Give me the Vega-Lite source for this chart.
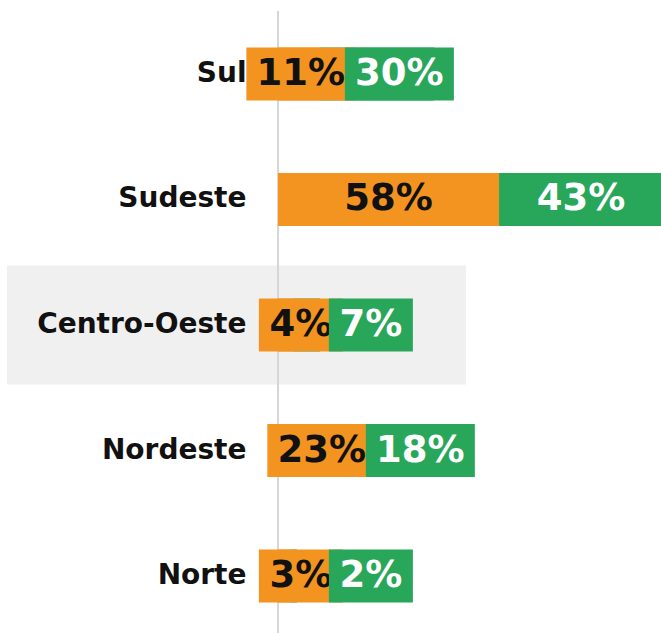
{
  "$schema": "https://vega.github.io/schema/vega-lite/v6.json",
  "width": 383,
  "height": 622,
  "autosize": "none",
  "padding": {"left": 278, "top": 11, "right": 0, "bottom": 0},
  "background": "#ffffff",
  "config": {"view": {"stroke": null}},
  "data": {
    "values": [
      {"region": "Sul", "s1": 11, "s2": 30},
      {"region": "Sudeste", "s1": 58, "s2": 43},
      {"region": "Centro-Oeste", "s1": 4, "s2": 7},
      {"region": "Nordeste", "s1": 23, "s2": 18},
      {"region": "Norte", "s1": 3, "s2": 2}
    ]
  },
  "transform": [
    {"calculate": "datum.s1 + datum.s2", "as": "end"},
    {"calculate": "datum.s1 + '%'", "as": "l1"},
    {"calculate": "datum.s2 + '%'", "as": "l2"},
    {"calculate": "length(datum.l1) >= 3 ? 28.6 : 22.04", "as": "w1"},
    {"calculate": "length(datum.l2) >= 3 ? 28.6 : 22.04", "as": "w2"},
    {"calculate": "max(datum.s1 / 2, 6)", "as": "c1"},
    {"calculate": "datum.c1 + (length(datum.l1) >= 3 ? 11.55 : 7.35)", "as": "g2"},
    {"calculate": "max(datum.s1 + datum.s2 / 2, datum.g2 + datum.w2 / 2)", "as": "c2"},
    {"calculate": "datum.c1 - datum.w1 / 2", "as": "b1a"},
    {"calculate": "datum.c1 + datum.w1 / 2", "as": "b1b"},
    {"calculate": "datum.c2 - datum.w2 / 2", "as": "b2a"},
    {"calculate": "datum.c2 + datum.w2 / 2", "as": "b2b"}
  ],
  "layer": [
    {
      "transform": [{"filter": "datum.region === 'Centro-Oeste'"}],
      "mark": {"type": "bar", "color": "#f0f0f0", "height": {"band": 2.245}},
      "encoding": {
        "y": {
          "field": "region", "type": "nominal",
          "sort": ["Sul", "Sudeste", "Centro-Oeste", "Nordeste", "Norte"],
          "scale": {"range": [0, 628], "paddingInner": 0.5777, "paddingOuter": 0.2908},
          "axis": {
            "title": null, "domain": false, "ticks": false, "tickSize": 0,
            "labelPadding": 32, "labelFont": "DejaVu Sans", "labelFontWeight": "bold",
            "labelFontSize": 28, "labelColor": "#111111", "zindex": 1, "labelLimit": 400
          }
        },
        "x": {"datum": -71.1, "type": "quantitative", "scale": {"domain": [0, 100.5], "nice": false, "zero": false}, "axis": null},
        "x2": {"datum": 49.3}
      }
    },
    {
      "mark": {"type": "rule", "color": "#d6d6d6", "strokeWidth": 2},
      "encoding": {"x": {"datum": 0, "type": "quantitative"}}
    },
    {
      "mark": {"type": "bar", "color": "#F39421"},
      "encoding": {
        "y": {"field": "region", "type": "nominal", "sort": ["Sul", "Sudeste", "Centro-Oeste", "Nordeste", "Norte"]},
        "x": {"field": "s1", "type": "quantitative"}
      }
    },
    {
      "mark": {"type": "bar", "color": "#28A65A"},
      "encoding": {
        "y": {"field": "region", "type": "nominal", "sort": ["Sul", "Sudeste", "Centro-Oeste", "Nordeste", "Norte"]},
        "x": {"field": "s1", "type": "quantitative"},
        "x2": {"field": "end"}
      }
    },
    {
      "mark": {"type": "bar", "color": "#F39421"},
      "encoding": {
        "y": {"field": "region", "type": "nominal", "sort": ["Sul", "Sudeste", "Centro-Oeste", "Nordeste", "Norte"]},
        "x": {"field": "b1a", "type": "quantitative"},
        "x2": {"field": "b1b"}
      }
    },
    {
      "mark": {"type": "text", "font": "DejaVu Sans", "fontWeight": "bold", "fontSize": 37, "align": "center", "baseline": "middle", "color": "#111111"},
      "encoding": {
        "y": {"field": "region", "type": "nominal", "sort": ["Sul", "Sudeste", "Centro-Oeste", "Nordeste", "Norte"]},
        "x": {"field": "c1", "type": "quantitative"},
        "text": {"field": "l1"}
      }
    },
    {
      "mark": {"type": "bar", "color": "#28A65A"},
      "encoding": {
        "y": {"field": "region", "type": "nominal", "sort": ["Sul", "Sudeste", "Centro-Oeste", "Nordeste", "Norte"]},
        "x": {"field": "b2a", "type": "quantitative"},
        "x2": {"field": "b2b"}
      }
    },
    {
      "mark": {"type": "text", "font": "DejaVu Sans", "fontWeight": "bold", "fontSize": 37, "align": "center", "baseline": "middle", "color": "#ffffff"},
      "encoding": {
        "y": {"field": "region", "type": "nominal", "sort": ["Sul", "Sudeste", "Centro-Oeste", "Nordeste", "Norte"]},
        "x": {"field": "c2", "type": "quantitative"},
        "text": {"field": "l2"}
      }
    }
  ]
}
